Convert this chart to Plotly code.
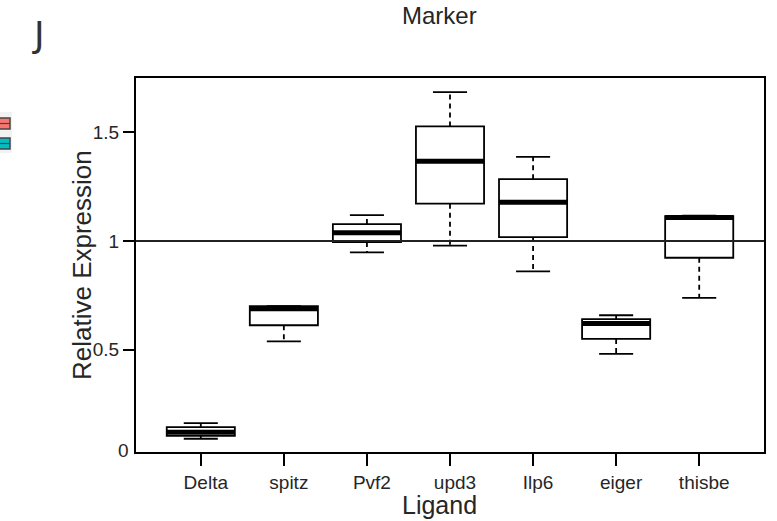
import plotly.graph_objects as go

# ---- data ----
ligands = ["Delta", "spitz", "Pvf2", "upd3", "Ilp6", "eiger", "thisbe"]
lower_whisker = [0.089, 0.538, 0.948, 0.979, 0.860, 0.480, 0.738]
q1_vals = [0.1025, 0.612, 0.995, 1.172, 1.018, 0.549, 0.923]
median_vals = [0.119, 0.688, 1.038, 1.368, 1.179, 0.620, 1.108]
q3_vals = [0.143, 0.700, 1.078, 1.528, 1.285, 0.640, 1.115]
upper_whisker = [0.161, 0.700, 1.119, 1.686, 1.388, 0.658, 1.117]
y_tick_vals = [0.5, 1, 1.5]
y_tick_text = ["0.5", "1", "1.5"]
reference_level = 1.0

# ---- layout geometry (pixels) ----
W, H = 777, 521
L, R, T, B = 136, 13, 78, 69
PW, PH = W - L - R, H - T - B
BOX_W = 0.82
CAP_HALF = 0.205

def px_x(px):
    return (px - L) / PW

def px_y(py):
    return (H - B - py) / PH

FONT = "Liberation Sans, Arial, sans-serif"
TXT = "#262626"

xs = list(range(len(ligands)))

fig = go.Figure()

# boxes (white fill, black outline); whiskers drawn separately
fig.add_trace(go.Box(
    x=xs, q1=q1_vals, median=median_vals, q3=q3_vals,
    lowerfence=q1_vals, upperfence=q3_vals,
    width=BOX_W, whiskerwidth=0,
    fillcolor="white", line=dict(color="black", width=1.8),
    boxpoints=False, hoverinfo="skip", showlegend=False,
))

# dashed whiskers
wx, wy = [], []
for i in xs:
    wx += [i, i, None, i, i, None]
    wy += [q3_vals[i], upper_whisker[i], None, q1_vals[i], lower_whisker[i], None]
fig.add_trace(go.Scatter(x=wx, y=wy, mode="lines",
                         line=dict(color="black", width=1.8, dash="5px,4px"),
                         hoverinfo="skip", showlegend=False))

# whisker caps
cx, cy = [], []
for i in xs:
    cx += [i - CAP_HALF, i + CAP_HALF, None, i - CAP_HALF, i + CAP_HALF, None]
    cy += [upper_whisker[i], upper_whisker[i], None, lower_whisker[i], lower_whisker[i], None]
fig.add_trace(go.Scatter(x=cx, y=cy, mode="lines",
                         line=dict(color="black", width=1.8),
                         hoverinfo="skip", showlegend=False))

# thick medians
mx, my = [], []
for i in xs:
    mx += [i - BOX_W / 2, i + BOX_W / 2, None]
    my += [median_vals[i], median_vals[i], None]
fig.add_trace(go.Scatter(x=mx, y=my, mode="lines",
                         line=dict(color="black", width=5),
                         hoverinfo="skip", showlegend=False))

# reference line at 1
fig.add_shape(type="line", xref="paper", x0=0, x1=1, yref="y",
              y0=reference_level, y1=reference_level,
              line=dict(color="#222222", width=2.2), layer="above")

# fragments of neighbouring panel's legend (left edge)
fig.add_shape(type="rect", xref="paper", yref="paper",
              x0=px_x(0), x1=px_x(12), y0=px_y(153), y1=px_y(112),
              fillcolor="#f2f2f2", line=dict(width=0), layer="below")
for (top, bot, col) in [(118, 129, "#F8766D"), (138, 149, "#00BFC4")]:
    fig.add_shape(type="rect", xref="paper", yref="paper",
                  x0=px_x(-3), x1=px_x(10), y0=px_y(bot), y1=px_y(top),
                  fillcolor=col, line=dict(color="#444444", width=1.5))
    mid = (top + bot) / 2
    fig.add_shape(type="line", xref="paper", yref="paper",
                  x0=px_x(-3), x1=px_x(10), y0=px_y(mid), y1=px_y(mid),
                  line=dict(color="#444444", width=1.2))

annotations = [
    dict(text="J", x=px_x(38), y=px_y(35), xref="paper", yref="paper",
         showarrow=False, font=dict(family="DejaVu Sans, sans-serif", size=36, color="#333333"),
         xanchor="center", yanchor="middle"),
    dict(text="Marker", x=px_x(439), y=px_y(15), xref="paper", yref="paper",
         showarrow=False, font=dict(family=FONT, size=24, color=TXT),
         xanchor="center", yanchor="middle"),
    dict(text="Ligand", x=px_x(439), y=px_y(505), xref="paper", yref="paper",
         showarrow=False, font=dict(family=FONT, size=25, color=TXT),
         xanchor="center", yanchor="middle"),
    dict(text="Relative Expression", x=px_x(82), y=0.5, xref="paper", yref="paper",
         showarrow=False, textangle=-90, font=dict(family=FONT, size=26, color=TXT),
         xanchor="center", yanchor="middle"),
    dict(text="0", x=px_x(131), y=px_y(450), xref="paper", yref="paper",
         showarrow=False, font=dict(family=FONT, size=19, color=TXT),
         xanchor="right", yanchor="middle"),
]

fig.update_layout(
    width=W, height=H, autosize=False,
    margin=dict(l=L, r=R, t=T, b=B, pad=0),
    paper_bgcolor="white", plot_bgcolor="white",
    showlegend=False,
    annotations=annotations,
    font=dict(family=FONT, color=TXT),
    xaxis=dict(range=[-0.78, 6.78], tickmode="array", tickvals=xs, ticktext=ligands,
               showgrid=False, zeroline=False, showline=True, mirror=True,
               linecolor="black", linewidth=2, ticks="outside", ticklen=12,
               tickwidth=2, tickcolor="black", tickfont=dict(size=19, color=TXT),
               ticklabelshift=5),
    yaxis=dict(range=[0.028, 1.751], tickmode="array", tickvals=y_tick_vals,
               ticktext=y_tick_text, showgrid=False, zeroline=False, showline=True,
               mirror=True, linecolor="black", linewidth=2, ticks="outside",
               ticklen=11, tickwidth=2, tickcolor="black",
               tickfont=dict(size=19, color=TXT)),
)

fig.write_html("out.html",
               config={"displayModeBar": False},
               post_script="document.body.style.margin='0';document.body.style.overflow='hidden';")
